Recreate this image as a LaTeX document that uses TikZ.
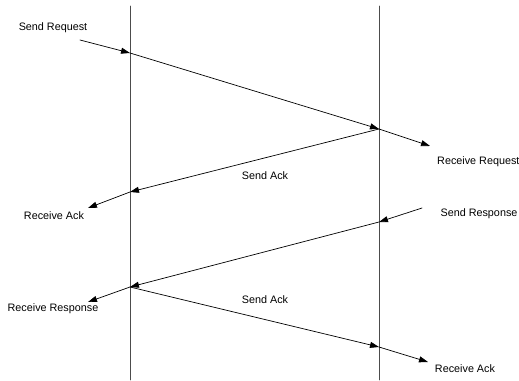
\documentclass[tikz,border=0pt]{standalone}
\usepackage{fontspec}
\setmainfont{Liberation Sans}
\usetikzlibrary{arrows.meta}
\begin{document}
\begin{tikzpicture}[x=1pt, y=-1pt, font=\fontsize{10.8}{12}\selectfont, line join=round, line cap=round, >={Triangle[length=9pt,width=6pt]},
	lifeline/.style={draw=black!70, line width=0.9pt},
	msg/.style={->, line width=0.7pt},
	lbl/.style={inner sep=0pt}]
	\useasboundingbox (0,0) rectangle (519,380);
	% Two lifelines
	\coordinate (Ltop) at (130,6);
	\coordinate (Lbot) at (130,380);
	\coordinate (Rtop) at (379,6);
	\coordinate (Rbot) at (379,380);
	\draw[lifeline] (Ltop) -- (Lbot);
	\draw[lifeline] (Rtop) -- (Rbot);
	% Points where the messages meet the lifelines
	\coordinate (L1) at (130,53);
	\coordinate (R1) at (379,129);
	\coordinate (L2) at (130,192);
	\coordinate (R2) at (379,222);
	\coordinate (L3) at (130,287);
	\coordinate (R3) at (379,347);
	% Free ends of the short arrows
	\coordinate (sreq) at (80,40);
	\coordinate (rreq) at (430,146);
	\coordinate (rack) at (88,208);
	\coordinate (sres) at (422,208);
	\coordinate (rres) at (88,302);
	\coordinate (rack2) at (428,362);
	% Labels
	\node[lbl] (tsreq) at (53,28) {Send Request};
	\node[lbl, anchor=west] (trreq) at (437,162) {Receive Request};
	\node[lbl] (tsack) at (265,176) {Send Ack};
	\node[lbl] (track) at (54,216) {Receive Ack};
	\node[lbl] (tsres) at (479,214) {Send Response};
	\node[lbl] (trres) at (53,309) {Receive Response};
	\node[lbl] (tsack2) at (265,300) {Send Ack};
	\node[lbl] (track2) at (465,369) {Receive Ack};
	% Messages
	\draw[msg] (sreq) -- (L1);
	\draw[msg] (L1) -- (R1);
	\draw[msg] (R1) -- (rreq);
	\draw[msg] (R1) -- (L2);
	\draw[msg] (L2) -- (rack);
	\draw[msg] (sres) -- (R2);
	\draw[msg] (R2) -- (L3);
	\draw[msg] (L3) -- (rres);
	\draw[msg] (L3) -- (R3);
	\draw[msg] (R3) -- (rack2);
\end{tikzpicture}
\end{document}
